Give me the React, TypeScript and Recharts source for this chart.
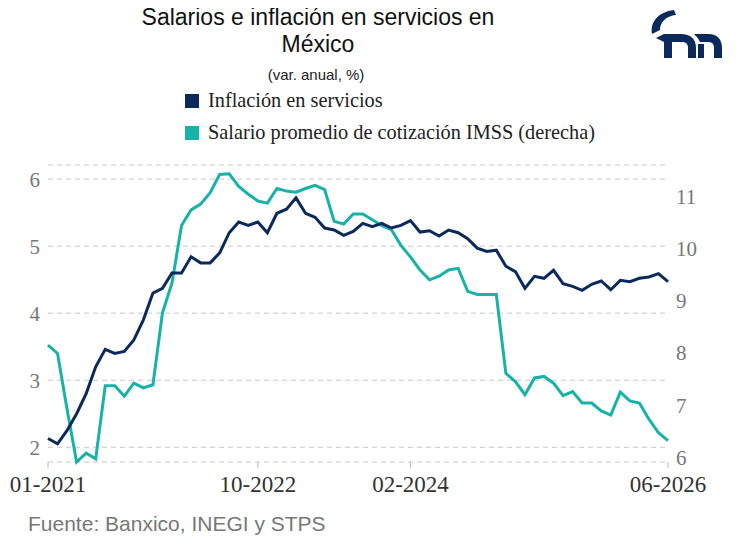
import React from 'react';
import { LineChart, Line, XAxis, YAxis, CartesianGrid } from 'recharts';

// monthly index 0 = 01-2021
const inflacionServicios = [
  2.13, 2.05, 2.25, 2.5, 2.8, 3.2, 3.46, 3.4, 3.43, 3.6, 3.9, 4.3, 4.37, 4.6, 4.6, 4.84, 4.75, 4.75, 4.9, 5.2,
  5.36, 5.31, 5.36, 5.2, 5.49, 5.55, 5.72, 5.49, 5.43, 5.27, 5.24, 5.16, 5.22, 5.34, 5.29, 5.34, 5.27, 5.31, 5.38, 5.21,
  5.23, 5.15, 5.24, 5.2, 5.11, 4.97, 4.92, 4.94, 4.7, 4.62, 4.37, 4.55, 4.52, 4.64, 4.44, 4.4, 4.34, 4.43, 4.48, 4.35,
  4.49, 4.47, 4.52, 4.54, 4.59, 4.47,
];
const salarioImss = [
  8.15, 7.99, 6.92, 5.91, 6.08, 5.97, 7.37, 7.37, 7.17, 7.42, 7.33, 7.39, 8.77, 9.34, 10.44, 10.74, 10.85, 11.07, 11.42, 11.43,
  11.19, 11.04, 10.91, 10.87, 11.15, 11.1, 11.08, 11.15, 11.21, 11.13, 10.52, 10.47, 10.66, 10.66, 10.55, 10.44, 10.36, 10.06, 9.84, 9.59,
  9.4, 9.47, 9.59, 9.62, 9.18, 9.12, 9.12, 9.12, 7.61, 7.45, 7.2, 7.52, 7.55, 7.42, 7.18, 7.26, 7.04, 7.04, 6.89, 6.81,
  7.25, 7.08, 7.04, 6.73, 6.47, 6.32,
];
const xTicks = [0, 22, 38, 65];
const xTickLabels: Record<number, string> = { 0: '01-2021', 22: '10-2022', 38: '02-2024', 65: '06-2026' };
const leftTicks = [2, 3, 4, 5, 6];
const rightTicks = [6, 7, 8, 9, 10, 11];

const data = inflacionServicios.map((v, i) => ({ i, inflacion: v, salario: salarioImss[i] }));

const serif = '"Liberation Serif", "DejaVu Serif", serif';
const sans = '"Liberation Sans", Arial, sans-serif';

export default function App() {
  return (
    <div style={{ position: 'relative', width: 736, height: 546, margin: -8, background: '#fff', overflow: 'hidden' }}>
      <div style={{ position: 'absolute', left: 118, width: 400, top: 4, textAlign: 'center', fontFamily: sans, fontSize: 23, lineHeight: '27px', color: '#111' }}>
        Salarios e inflación en servicios en México
      </div>
      <div style={{ position: 'absolute', left: 116, width: 400, top: 66, textAlign: 'center', fontFamily: sans, fontSize: 15, color: '#222' }}>
        (var. anual, %)
      </div>
      <div style={{ position: 'absolute', left: 185, top: 89, fontFamily: serif, fontSize: 20.3, color: '#222', display: 'flex', alignItems: 'center' }}>
        <span style={{ width: 14, height: 14, background: '#0b2a5b', marginRight: 9, display: 'inline-block' }} />
        Inflación en servicios
      </div>
      <div style={{ position: 'absolute', left: 185, top: 121, fontFamily: serif, fontSize: 20.3, color: '#222', display: 'flex', alignItems: 'center' }}>
        <span style={{ width: 14, height: 14, background: '#17b2a8', marginRight: 9, display: 'inline-block' }} />
        Salario promedio de cotización IMSS (derecha)
      </div>
      <svg style={{ position: 'absolute', left: 646, top: 6 }} width="80" height="60" viewBox="0 0 80 60">
        <path d="M28 4 C12 6 4 16 6 28 L14 24 C14 16 20 10 30 9 Z" fill="#0b2a5b" />
        <path d="M10 32 L18 28 L34 28 C46 28 50 34 50 42 L50 52 L42 52 L42 42 C42 38 40 36 36 36 L26 36 L26 52 L18 52 L18 36 Z" fill="#0b2a5b" />
        <path d="M48 28 L62 28 C72 28 76 34 76 42 L76 52 L68 52 L68 42 C68 38 66 36 62 36 L54 36 C52 32 50 30 48 28 Z" fill="#0b2a5b" />
        <path d="M52 38 L58 38 L58 52 L52 52 Z" fill="#0b2a5b" />
      </svg>
      <div style={{ position: 'absolute', left: 28, top: 512, fontFamily: sans, fontSize: 21, color: '#777' }}>
        Fuente: Banxico, INEGI y STPS
      </div>
      <div style={{ position: 'absolute', left: 0, top: 150 }}>
        <LineChart width={736} height={352} data={data} margin={{ top: 15, right: 8, bottom: 0, left: 8 }}>
          <CartesianGrid vertical={false} stroke="#c8c8c8" strokeDasharray="5 4" yAxisId="left" />
          <XAxis
            dataKey="i"
            type="number"
            domain={[0, 65]}
            ticks={xTicks}
            tickFormatter={(v) => xTickLabels[v] ?? ''}
            axisLine={false}
            tickLine={{ stroke: '#bbb' }}
            tickSize={6}
            height={40}
            tick={{ fill: '#333', fontFamily: serif, fontSize: 23 }}
            tickMargin={8}
          />
          <YAxis
            yAxisId="left"
            domain={[1.78, 6.21]}
            ticks={leftTicks}
            axisLine={false}
            tickLine={false}
            width={40}
            tick={{ fill: '#777', fontFamily: serif, fontSize: 21 }}
          />
          <YAxis
            yAxisId="right"
            orientation="right"
            domain={[6, 11.6]}
            ticks={rightTicks}
            axisLine={false}
            tickLine={false}
            width={60}
            tick={{ fill: '#777', fontFamily: serif, fontSize: 21 }}
          />
          <Line yAxisId="right" dataKey="salario" stroke="#17b2a8" strokeWidth={3} dot={false} isAnimationActive={false} />
          <Line yAxisId="left" dataKey="inflacion" stroke="#0b2a5b" strokeWidth={3} dot={false} isAnimationActive={false} />
        </LineChart>
      </div>
    </div>
  );
}
